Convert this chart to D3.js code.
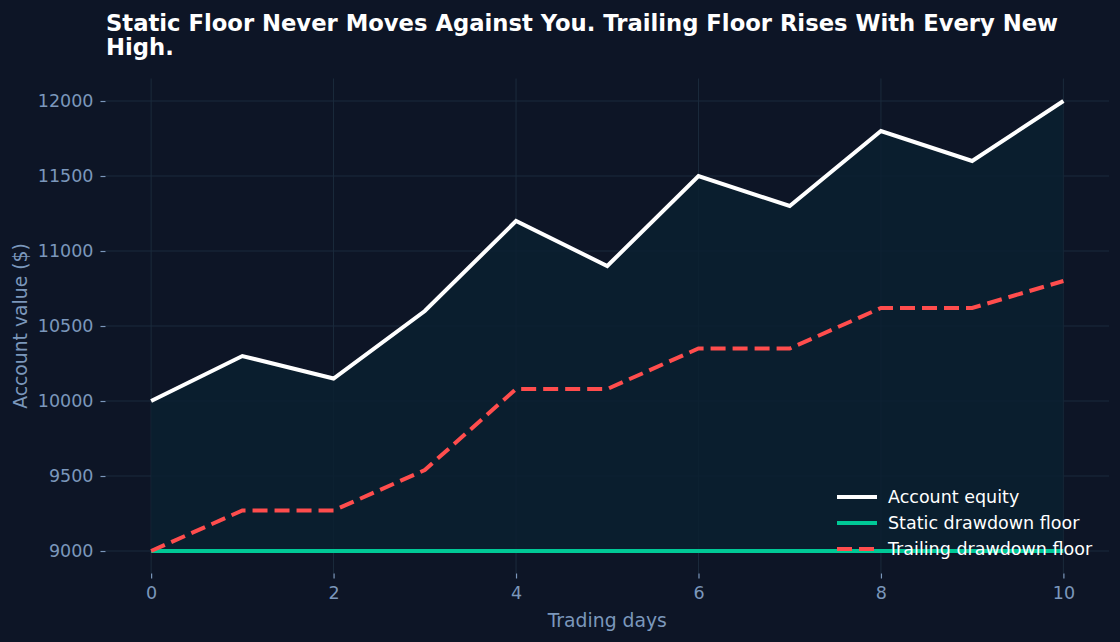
<!DOCTYPE html>
<html>
<head>
  <meta charset="utf-8">
  <title>Static vs trailing drawdown floor</title>
  <style>
    body { margin: 0; background: #0d1526; }
    svg text { font-family: "DejaVu Sans", sans-serif; }
  </style>
</head>
<body>
  <svg></svg>
  <script src="https://d3js.org/d3.v7.min.js"></script>
  <script>
    const days = [0, 1, 2, 3, 4, 5, 6, 7, 8, 9, 10];
    const equity = [10000, 10300, 10150, 10600, 11200, 10900, 11500, 11300, 11800, 11600, 12000];
    const staticFloor = [9000, 9000, 9000, 9000, 9000, 9000, 9000, 9000, 9000, 9000, 9000];
    const trailingFloor = [9000, 9270, 9270, 9540, 10080, 10080, 10350, 10350, 10620, 10620, 10800];
    const xTicks = [0, 2, 4, 6, 8, 10];
    const yTicks = [9000, 9500, 10000, 10500, 11000, 11500, 12000];

    const width = 1120;
    const height = 642;
    const margin = { top: 78.5, right: 11, bottom: 68.5, left: 105.5 };

    const bg = "#0d1526";
    const tickColor = "#7b97bb";
    const gridColor = "#1b2b3c";

    const svg = d3.select("svg")
      .attr("width", width)
      .attr("height", height)
      .attr("viewBox", [0, 0, width, height]);

    svg.append("rect").attr("width", width).attr("height", height).attr("fill", bg);

    const x = d3.scaleLinear([-0.5, 10.5], [margin.left, width - margin.right]);
    const y = d3.scaleLinear([8850, 12150], [height - margin.bottom, margin.top]);

    // grid
    svg.append("g")
      .selectAll("line")
      .data(xTicks)
      .join("line")
      .attr("x1", d => x(d)).attr("x2", d => x(d))
      .attr("y1", margin.top).attr("y2", height - margin.bottom)
      .attr("stroke", gridColor).attr("stroke-width", 1);
    svg.append("g")
      .selectAll("line")
      .data(yTicks)
      .join("line")
      .attr("x1", margin.left).attr("x2", width - margin.right)
      .attr("y1", d => y(d)).attr("y2", d => y(d))
      .attr("stroke", gridColor).attr("stroke-width", 1);

    // fill between equity and static floor
    const area = d3.area()
      .x((d, i) => x(days[i]))
      .y0((d, i) => y(staticFloor[i]))
      .y1(d => y(d));
    svg.append("path")
      .datum(equity)
      .attr("d", area)
      .attr("fill", "#0b2030")
      .attr("fill-opacity", 0.85);

    // axes
    const xAxis = svg.append("g")
      .attr("transform", `translate(0,${height - margin.bottom})`)
      .call(d3.axisBottom(x).tickValues(xTicks).tickSize(5).tickPadding(8));
    const yAxis = svg.append("g")
      .attr("transform", `translate(${margin.left},0)`)
      .call(d3.axisLeft(y).tickValues(yTicks).tickFormat(d3.format("d")).tickSize(5).tickPadding(7));
    [xAxis, yAxis].forEach(g => {
      g.select(".domain").remove();
      g.selectAll(".tick line").attr("stroke", tickColor).attr("stroke-width", 1.2);
      g.selectAll(".tick text")
        .attr("fill", tickColor)
        .style("font-size", "17.5px")
        .style("font-family", "DejaVu Sans, sans-serif");
    });

    const line = d3.line().x((d, i) => x(days[i])).y(d => y(d));

    svg.append("path")
      .datum(staticFloor)
      .attr("d", line)
      .attr("fill", "none")
      .attr("stroke", "#00c896")
      .attr("stroke-width", 4);

    svg.append("path")
      .datum(trailingFloor)
      .attr("d", line)
      .attr("fill", "none")
      .attr("stroke", "#ff4d4d")
      .attr("stroke-width", 4)
      .attr("stroke-dasharray", "15,7");

    svg.append("path")
      .datum(equity)
      .attr("d", line)
      .attr("fill", "none")
      .attr("stroke", "#ffffff")
      .attr("stroke-width", 4);

    // axis labels
    svg.append("text")
      .attr("x", (margin.left + width - margin.right) / 2)
      .attr("y", 627)
      .attr("text-anchor", "middle")
      .attr("fill", tickColor)
      .style("font-size", "18.8px")
      .text("Trading days");
    svg.append("text")
      .attr("transform", `translate(27,${(margin.top + height - margin.bottom) / 2}) rotate(-90)`)
      .attr("text-anchor", "middle")
      .attr("fill", tickColor)
      .style("font-size", "18.8px")
      .text("Account value ($)");

    // title
    const title = svg.append("text")
      .attr("fill", "#ffffff")
      .style("font-size", "22.7px")
      .style("font-weight", "bold");
    title.append("tspan").attr("x", 106).attr("y", 31)
      .text("Static Floor Never Moves Against You. Trailing Floor Rises With Every New");
    title.append("tspan").attr("x", 106).attr("y", 55).text("High.");

    // legend
    const legendItems = [
      { label: "Account equity", color: "#ffffff", dash: null },
      { label: "Static drawdown floor", color: "#00c896", dash: null },
      { label: "Trailing drawdown floor", color: "#ff4d4d", dash: "15,7" }
    ];
    const legend = svg.append("g").attr("transform", "translate(837,497)");
    legendItems.forEach((d, i) => {
      const row = legend.append("g").attr("transform", `translate(0,${i * 26})`);
      row.append("line")
        .attr("x1", 0).attr("x2", 40)
        .attr("stroke", d.color)
        .attr("stroke-width", 4)
        .attr("stroke-dasharray", d.dash);
      row.append("text")
        .attr("x", 51)
        .attr("dy", "0.35em")
        .attr("fill", "#ffffff")
        .style("font-size", "17.5px")
        .text(d.label);
    });
  </script>
</body>
</html>
